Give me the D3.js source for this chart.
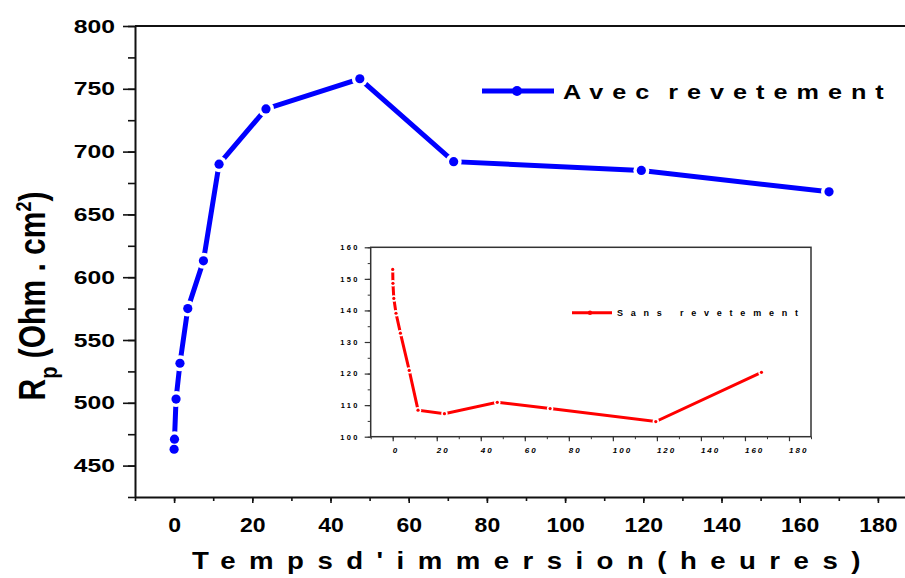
<!DOCTYPE html>
<html>
<head>
<meta charset="utf-8">
<script src="https://cdn.jsdelivr.net/npm/d3@7/dist/d3.min.js"></script>
<style>
    body { margin: 0; background: #fff; }
    svg { display: block; }
    text { font-family: "Liberation Sans", Arial, sans-serif; font-weight: bold; fill: #000; }
</style>
</head>
<body>
<div id="graphic"></div>
<script>
// temps d'immersion (heures)
var hours = [0, 0.1, 0.5, 1.5, 3.5, 7.5, 11.5, 23.5, 47.5, 71.5, 119.5, 167.5];
// Rp avec revetement (Ohm.cm2)
var rpAvec = [463, 471, 503, 531.5, 575, 613, 690, 734, 758, 692, 685, 668];
// Rp sans revetement (inset)
var rpSans = [153, 148.6, 143.8, 139.1, 132.8, 121, 108.4, 107.3, 110.9, 108.9, 104.8, 120.4];

var xTicks = [0, 20, 40, 60, 80, 100, 120, 140, 160, 180],
    xMinor = d3.range(-10, 191, 10),
    yTicks = [450, 500, 550, 600, 650, 700, 750, 800],
    yMinor = d3.range(425, 801, 25),
    insetYTicks = [100, 110, 120, 130, 140, 150, 160],
    insetYMinor = d3.range(100, 161, 5);

var width = 905,
    height = 578;

var svg = d3.select("#graphic").append("svg")
    .attr("width", width)
    .attr("height", height);

function mainChart() {

    var x = d3.scaleLinear().domain([-10, 190]).range([135, 917]),
        y = d3.scaleLinear().domain([425, 800]).range([497, 26]);

    // top frame
    svg.append("line")
        .attr("x1", 135).attr("x2", 917)
        .attr("y1", y(800)).attr("y2", y(800))
        .attr("stroke", "#111").attr("stroke-width", 2);

    // minor ticks first
    svg.append("g")
        .attr("transform", "translate(0," + y(425) + ")")
        .call(d3.axisBottom(x).tickValues(xMinor).tickSize(4).tickSizeOuter(0).tickFormat(""))
        .call(function (g) { g.selectAll("line").attr("stroke", "#111").attr("stroke-width", 1.6); g.select(".domain").remove(); });

    svg.append("g")
        .attr("transform", "translate(" + x(-10) + ",0)")
        .call(d3.axisLeft(y).tickValues(yMinor).tickSize(7).tickSizeOuter(0).tickFormat(""))
        .call(function (g) { g.selectAll("line").attr("stroke", "#111").attr("stroke-width", 1.6); g.select(".domain").remove(); });

    var xAxis = svg.append("g")
        .attr("transform", "translate(0," + y(425) + ")")
        .call(d3.axisBottom(x).tickValues(xTicks).tickSize(6).tickSizeOuter(0));

    xAxis.select(".domain").attr("stroke", "#111").attr("stroke-width", 2);
    xAxis.selectAll("line").attr("stroke", "#111").attr("stroke-width", 1.6);
    xAxis.selectAll("text")
        .attr("y", 35)
        .attr("dy", null)
        .attr("transform", "scale(1.15,1)")
        .style("font-size", "20px")
        .attr("fill", "#000");

    var yAxis = svg.append("g")
        .attr("transform", "translate(" + x(-10) + ",0)")
        .call(d3.axisLeft(y).tickValues(yTicks).tickSize(12).tickSizeOuter(0));

    yAxis.select(".domain").attr("stroke", "#111").attr("stroke-width", 2);
    yAxis.selectAll("line").attr("stroke", "#111").attr("stroke-width", 1.6);
    yAxis.selectAll("text")
        .attr("x", -15.4)
        .attr("transform", "scale(1.3,1)")
        .style("font-size", "19px")
        .attr("fill", "#000");
    svg.selectAll("g").attr("font-family", null).attr("font-size", null);

    // blue series
    var pts = hours.map(function (h, i) { return [h, rpAvec[i]]; });

    svg.append("path")
        .datum(pts)
        .attr("fill", "none")
        .attr("stroke", "#0000ff")
        .attr("stroke-width", 5)
        .attr("d", d3.line().x(function (d) { return x(d[0]); }).y(function (d) { return y(d[1]); }));

    // white halo so the line stops short of the markers
    svg.append("g").selectAll("circle")
        .data(pts).enter().append("circle")
        .attr("cx", function (d) { return x(d[0]); })
        .attr("cy", function (d) { return y(d[1]); })
        .attr("r", 8)
        .attr("fill", "#fff");

    svg.append("g").selectAll("circle")
        .data(pts).enter().append("circle")
        .attr("cx", function (d) { return x(d[0]); })
        .attr("cy", function (d) { return y(d[1]); })
        .attr("r", 4.6)
        .attr("fill", "#0000ff");

    // legend
    svg.append("line")
        .attr("x1", 482).attr("x2", 554)
        .attr("y1", 91).attr("y2", 91)
        .attr("stroke", "#0000ff").attr("stroke-width", 5);
    svg.append("circle")
        .attr("cx", 517).attr("cy", 91).attr("r", 5)
        .attr("fill", "#0000ff");
    var leg = svg.append("text")
        .attr("transform", "translate(563,99) scale(1.2,1)")
        .style("font-size", "21px")
        .style("letter-spacing", "7.5px");
    leg.append("tspan").text("Avec ");
    leg.append("tspan").attr("dx", -5).text("revetement");

    // axis titles
    svg.append("text")
        .attr("transform", "translate(192,569) scale(1.2,1)")
        .attr("textLength", 557)
        .attr("lengthAdjust", "spacing")
        .style("font-size", "23px")
        .text("Tempsd'immersion(heures)");

    var ylab = svg.append("text")
        .attr("transform", "translate(45,296) scale(1.24,1) rotate(-90)")
        .attr("text-anchor", "middle")
        .style("font-size", "30px");
    ylab.append("tspan").text("R");
    ylab.append("tspan").attr("dy", 10).style("font-size", "20px").text("p");
    ylab.append("tspan").attr("dy", -10).text(" (Ohm . cm");
    ylab.append("tspan").attr("dy", -11).style("font-size", "18px").text("2");
    ylab.append("tspan").attr("dy", 11).text(")");
}

function insetChart() {

    var x = d3.scaleLinear().domain([-10, 190]).range([370.7, 811]),
        y = d3.scaleLinear().domain([100, 160]).range([436.7, 247.3]);

    var g = svg.append("g");

    g.append("rect")
        .attr("x", x(-10)).attr("y", y(160))
        .attr("width", x(190) - x(-10))
        .attr("height", y(100) - y(160))
        .attr("fill", "none")
        .attr("stroke", "#333")
        .attr("stroke-width", 1.5);

    g.append("g")
        .attr("transform", "translate(0," + y(100) + ")")
        .call(d3.axisBottom(x).tickValues(xMinor).tickSize(2.5).tickSizeOuter(0).tickFormat(""))
        .call(function (a) { a.selectAll("line").attr("stroke", "#333"); a.select(".domain").remove(); });

    g.append("g")
        .attr("transform", "translate(" + x(-10) + ",0)")
        .call(d3.axisLeft(y).tickValues(insetYMinor).tickSize(3).tickSizeOuter(0).tickFormat(""))
        .call(function (a) { a.selectAll("line").attr("stroke", "#333"); a.select(".domain").remove(); });

    var xa = g.append("g")
        .attr("transform", "translate(0," + y(100) + ")")
        .call(d3.axisBottom(x).tickValues(xTicks).tickSize(4.5).tickSizeOuter(0));
    xa.select(".domain").remove();
    xa.selectAll("line").attr("stroke", "#333").attr("stroke-width", 1.2);
    xa.selectAll("text")
        .attr("x", -0.5)
        .attr("y", 16)
        .attr("dy", null)
        .attr("text-anchor", "start")
        .style("font-size", "8px")
        .style("font-style", "italic")
        .style("letter-spacing", "2px")
        .attr("fill", "#000");

    var ya = g.append("g")
        .attr("transform", "translate(" + x(-10) + ",0)")
        .call(d3.axisLeft(y).tickValues(insetYTicks).tickSize(6).tickSizeOuter(0));
    ya.select(".domain").remove();
    ya.selectAll("line").attr("stroke", "#333").attr("stroke-width", 1.2);
    ya.selectAll("text")
        .attr("x", -11)
        .style("font-size", "7.5px")
        .style("letter-spacing", "2.3px")
        .attr("fill", "#000");
    g.selectAll("g").attr("font-family", null).attr("font-size", null);

    // red series
    var pts = hours.map(function (h, i) { return [h, rpSans[i]]; });

    g.append("path")
        .datum(pts)
        .attr("fill", "none")
        .attr("stroke", "#ff0000")
        .attr("stroke-width", 3)
        .attr("d", d3.line().x(function (d) { return x(d[0]); }).y(function (d) { return y(d[1]); }));

    g.append("g").selectAll("circle")
        .data(pts).enter().append("circle")
        .attr("cx", function (d) { return x(d[0]); })
        .attr("cy", function (d) { return y(d[1]); })
        .attr("r", 3.2)
        .attr("fill", "#fff");

    g.append("g").selectAll("circle")
        .data(pts).enter().append("circle")
        .attr("cx", function (d) { return x(d[0]); })
        .attr("cy", function (d) { return y(d[1]); })
        .attr("r", 1.6)
        .attr("fill", "#ff0000");

    // legend
    g.append("line")
        .attr("x1", 572).attr("x2", 612)
        .attr("y1", 312.7).attr("y2", 312.7)
        .attr("stroke", "#ff0000").attr("stroke-width", 3);
    g.append("circle")
        .attr("cx", 590).attr("cy", 312.7).attr("r", 2.2)
        .attr("fill", "#ff0000");
    g.append("text")
        .attr("x", 617)
        .attr("y", 316)
        .attr("textLength", 181)
        .attr("lengthAdjust", "spacing")
        .style("font-size", "9px")
        .text("Sans revetement");
}

mainChart();
insetChart();
</script>
</body>
</html>
